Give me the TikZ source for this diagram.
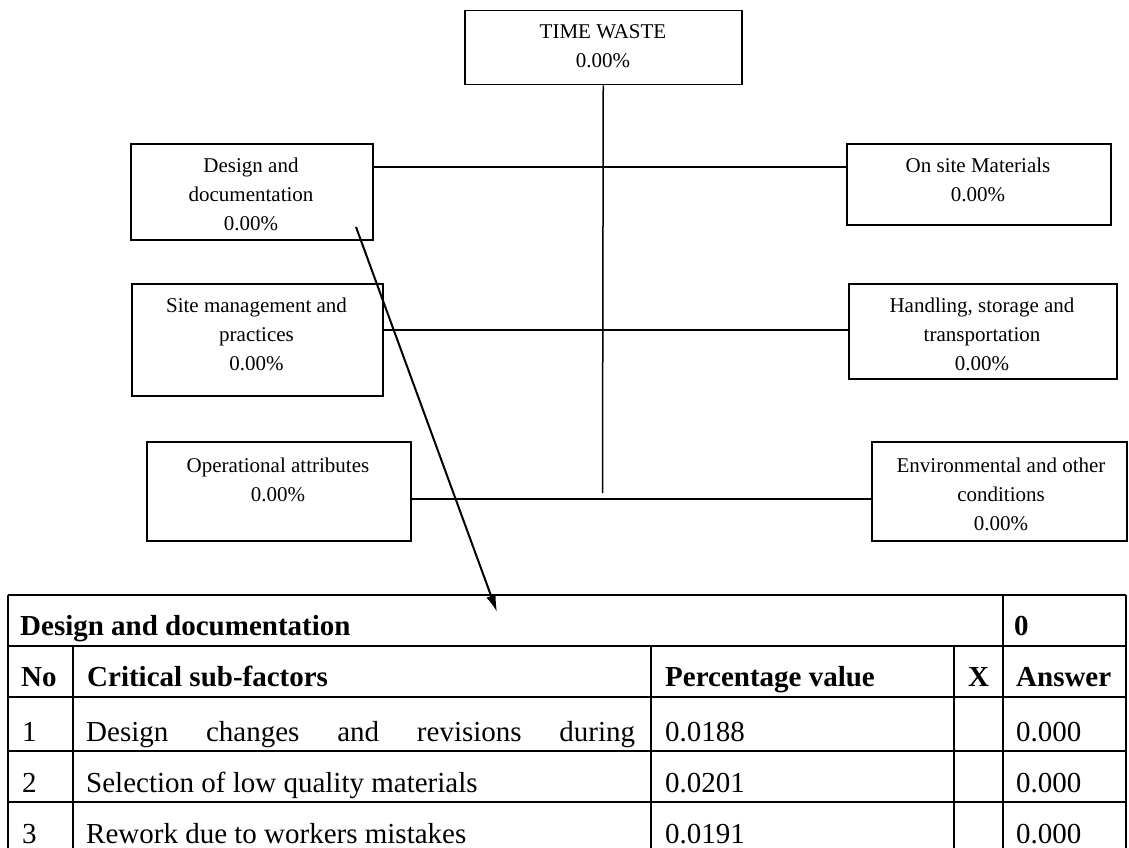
\documentclass[tikz,border=0pt]{standalone}
\usepackage{fontspec}
\setmainfont{Liberation Serif}
\usetikzlibrary{arrows.meta}
\begin{document}
\begin{tikzpicture}[x=1pt,y=-1pt,
  box/.style={draw,line width=1.5pt,inner sep=0pt,anchor=north west},
  boxtxt/.style={anchor=base,inner sep=0pt,font=\fontsize{21}{29}\selectfont},
  conn/.style={line width=1.5pt},
  arr/.style={line width=2pt,-{Latex[length=17pt,width=10pt]}},
  tline/.style={line width=2pt},
  tabtxt/.style={anchor=base west,inner sep=0pt,font=\fontsize{29}{34}\selectfont},
  tabhead/.style={tabtxt,font=\fontsize{29}{34}\selectfont\bfseries}]
\useasboundingbox (0,0) rectangle (1129,848);
\fill[white] (0,0) rectangle (1129,848);
% boxes
\node[box,minimum width=277pt,minimum height=74pt] (tw) at (464,10) {};
\node[box,minimum width=242pt,minimum height=96pt] (dd) at (130,143) {};
\node[box,minimum width=264pt,minimum height=81pt] (os) at (846,143) {};
\node[box,minimum width=251pt,minimum height=112pt] (sm) at (131,283) {};
\node[box,minimum width=268pt,minimum height=95pt] (hs) at (848,283) {};
\node[box,minimum width=264pt,minimum height=99pt] (op) at (146,441) {};
\node[box,minimum width=255pt,minimum height=99pt] (en) at (871,441) {};
% box texts
\node[boxtxt] (twt) at (603,39) {\begin{tabular}[t]{@{}c@{}}TIME WASTE\\0.00\%\end{tabular}};
\node[boxtxt] (ddt) at (251,172) {\begin{tabular}[t]{@{}c@{}}Design and\\documentation\\0.00\%\end{tabular}};
\node[boxtxt] (ost) at (978,172) {\begin{tabular}[t]{@{}c@{}}On site Materials\\0.00\%\end{tabular}};
\node[boxtxt] (smt) at (256.5,312) {\begin{tabular}[t]{@{}c@{}}Site management and\\practices\\0.00\%\end{tabular}};
\node[boxtxt] (hst) at (982,312) {\begin{tabular}[t]{@{}c@{}}Handling, storage and\\transportation\\0.00\%\end{tabular}};
\node[boxtxt] (opt) at (278,472) {\begin{tabular}[t]{@{}c@{}}Operational attributes\\0.00\%\end{tabular}};
\node[boxtxt] (ent) at (1001,472) {\begin{tabular}[t]{@{}c@{}}Environmental and other\\conditions\\0.00\%\end{tabular}};
% connectors
\coordinate (trunkend) at (602.5,493);
\coordinate (y1) at (0,167);
\coordinate (y2) at (0,330);
\coordinate (y3) at (0,499);
\draw[conn] (tw.south) -- (trunkend);
\draw[conn] (dd.east |- y1) -- (os.west |- y1);
\draw[conn] (sm.east |- y2) -- (hs.west |- y2);
\draw[conn] (op.east |- y3) -- (en.west |- y3);
% table grid
\draw[tline] (8,595) -- (1126,595);
\draw[tline] (8,646) -- (1126,646);
\draw[tline] (8,697) -- (1126,697);
\draw[tline] (8,751) -- (1126,751);
\draw[tline] (8,802) -- (1126,802);
\draw[tline] (8,595) -- (8,860);
\draw[tline] (1126,595) -- (1126,860);
\draw[tline] (1003,595) -- (1003,860);
\draw[tline] (73,646) -- (73,860);
\draw[tline] (651,646) -- (651,860);
\draw[tline] (954,646) -- (954,860);
% table texts
\node[tabhead] (th) at (20,635) {Design and documentation};
\node[tabhead] (th0) at (1014,635) {0};
\node[tabhead] (hno) at (21,686) {No};
\node[tabhead] (hcs) at (87,686) {Critical sub-factors};
\node[tabhead] (hpv) at (665,686) {Percentage value};
\node[tabhead] (hx) at (968,686) {X};
\node[tabhead] (ha) at (1016,686) {Answer};
\node[tabtxt] (r1n) at (22,741) {1};
\node[tabtxt] (r1c) at (86,741) {\makebox[549pt][s]{Design changes and revisions during}};
\node[tabtxt] (r1p) at (665,741) {0.0188};
\node[tabtxt] (r1a) at (1016,741) {0.000};
\node[tabtxt] (r2n) at (22,792) {2};
\node[tabtxt] (r2c) at (86,792) {Selection of low quality materials};
\node[tabtxt] (r2p) at (665,792) {0.0201};
\node[tabtxt] (r2a) at (1016,792) {0.000};
\node[tabtxt] (r3n) at (22,843) {3};
\node[tabtxt] (r3c) at (86,843) {Rework due to workers mistakes};
\node[tabtxt] (r3p) at (665,843) {0.0191};
\node[tabtxt] (r3a) at (1016,843) {0.000};
% arrow
\coordinate (arrstart) at (356,227);
\coordinate (arrend) at (497,612);
\draw[arr] (arrstart) -- (arrend);
\end{tikzpicture}
\end{document}
